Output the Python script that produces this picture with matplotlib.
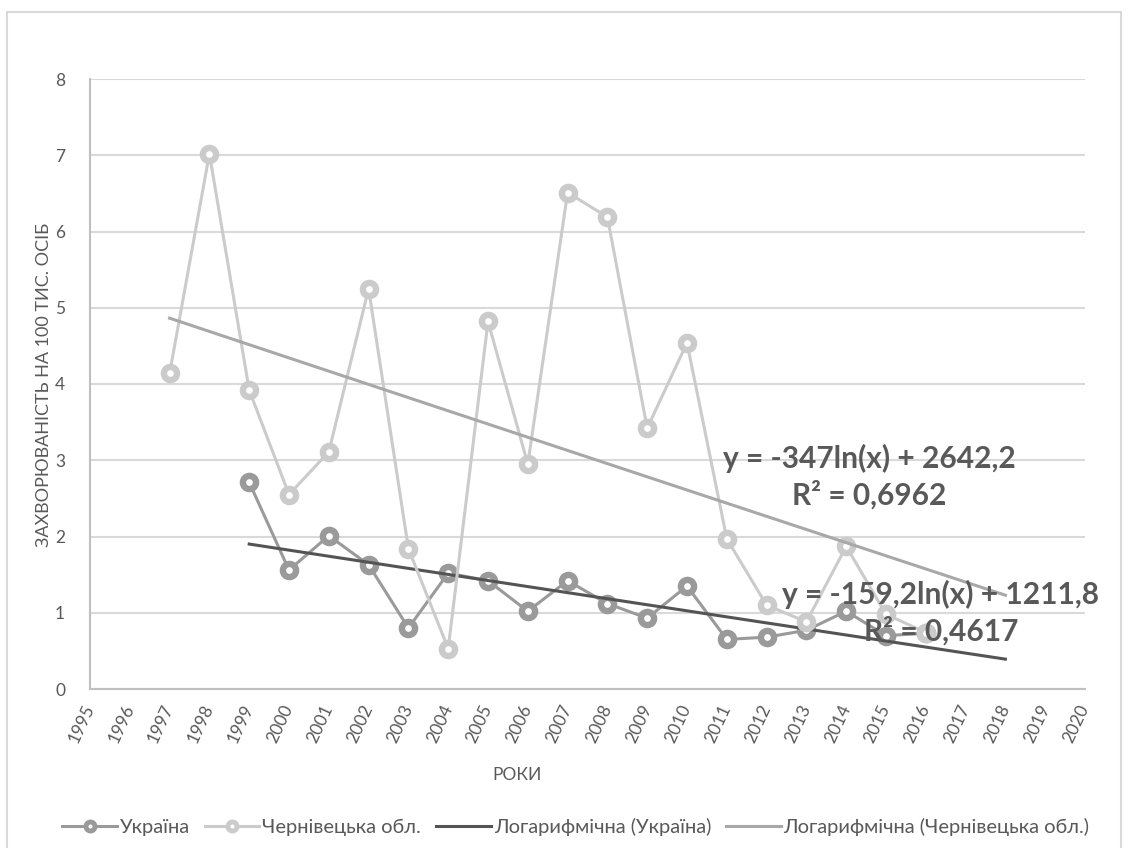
import numpy as np
import matplotlib
matplotlib.use("Agg")
import matplotlib.pyplot as plt
from matplotlib.lines import Line2D
from matplotlib.patches import Rectangle

# ---- data ----
ukr_years = [1999, 2000, 2001, 2002, 2003, 2004, 2005, 2006, 2007, 2008,
             2009, 2010, 2011, 2012, 2013, 2014, 2015, 2016]
ukr_vals = [2.71, 1.56, 2.01, 1.63, 0.80, 1.52, 1.42, 1.02, 1.42, 1.12,
            0.93, 1.35, 0.65, 0.68, 0.77, 1.02, 0.70, 0.73]
chv_years = [1997, 1998, 1999, 2000, 2001, 2002, 2003, 2004, 2005, 2006,
             2007, 2008, 2009, 2010, 2011, 2012, 2013, 2014, 2015, 2016]
chv_vals = [4.14, 7.02, 3.92, 2.55, 3.11, 5.25, 1.84, 0.53, 4.82, 2.95,
            6.51, 6.19, 3.42, 4.54, 1.97, 1.10, 0.88, 1.87, 0.98, 0.74]
trend_end = 2018
x_ticks = list(range(1995, 2021))
y_ticks = list(range(0, 9))
series_names = ["Україна", "Чернівецька обл.",
                "Логарифмічна (Україна)", "Логарифмічна (Чернівецька обл.)"]
eq_chv = ["y = -347ln(x) + 2642,2", "R² = 0,6962"]
eq_ukr = ["y = -159,2ln(x) + 1211,8", "R² = 0,4617"]
x_label = "РОКИ"
y_label = "ЗАХВОРЮВАНІСТЬ НА 100 ТИС. ОСІБ"

plt.rcParams['font.family'] = ['Lato', 'DejaVu Sans']

W, H = 1129, 848
fig = plt.figure(figsize=(W / 100, H / 100), dpi=100)
ax = fig.add_axes([90 / W, 1 - 689 / H, (1085 - 90) / W, (689 - 79) / H])

c_ukr = "#9a9a9a"
c_chv = "#cbcbcb"
c_tr_ukr = "#545454"
c_tr_chv = "#a8a8a8"
txt = "#595959"

ax.set_xlim(1995, 2020)
ax.set_ylim(0, 8)
ax.set_xticks(x_ticks)
ax.set_yticks(y_ticks)
ax.yaxis.grid(True, color="#d9d9d9", lw=1.5)
ax.set_axisbelow(True)
for s in ["top", "right"]:
    ax.spines[s].set_visible(False)
for s in ["left", "bottom"]:
    ax.spines[s].set_color("#bfbfbf")
    ax.spines[s].set_linewidth(1.5)
ax.tick_params(length=0, colors=txt, labelsize=12.5)
ax.tick_params(axis="y", pad=18)
ax.tick_params(axis="x", pad=12)
for lab in ax.get_xticklabels():
    lab.set_rotation(65)
    lab.set_ha("right")
    lab.set_va("center")
    lab.set_rotation_mode("anchor")

mk = dict(marker="o", ms=9.5, mew=4.6, mfc="white")
ax.plot(ukr_years, ukr_vals, color=c_ukr, lw=2.2, mec=c_ukr, zorder=3, **mk)

# logarithmic trend lines fitted from the data
def log_fit(xs, ys, x_end):
    a, b = np.polyfit(np.log(xs), ys, 1)
    xx = np.linspace(xs[0], x_end, 100)
    return xx, a * np.log(xx) + b

tx, ty = log_fit(ukr_years, ukr_vals, trend_end)
ax.plot(tx, ty, color=c_tr_ukr, lw=2.2, zorder=4)

ax.plot(chv_years, chv_vals, color=c_chv, lw=2.2, mec=c_chv, zorder=5, **mk)
tx2, ty2 = log_fit(chv_years, chv_vals, trend_end)
ax.plot(tx2, ty2, color=c_tr_chv, lw=2.2, zorder=6)

# equations
eqkw = dict(transform=fig.transFigure, ha="center", va="center",
            fontsize=21.5, fontweight="bold", color=txt, zorder=10)
fig.text(869 / W, 1 - 458 / H, eq_chv[0], **eqkw)
fig.text(869 / W, 1 - 495 / H, eq_chv[1], **eqkw)
fig.text(941 / W, 1 - 594 / H, eq_ukr[0], **eqkw)
fig.text(941 / W, 1 - 631 / H, eq_ukr[1], **eqkw)

# axis labels
fig.text(517 / W, 1 - 775 / H, x_label, ha="center", va="center",
         fontsize=12.5, color=txt)
fig.text(44 / W, 1 - 385 / H, y_label, ha="center", va="center",
         rotation=90, fontsize=13, color=txt)

# legend
handles = [
    Line2D([], [], color=c_ukr, lw=2.2, marker="o", ms=6.5, mew=3.5,
           mfc="white", mec=c_ukr),
    Line2D([], [], color=c_chv, lw=2.2, marker="o", ms=6.5, mew=3.5,
           mfc="white", mec=c_chv),
    Line2D([], [], color=c_tr_ukr, lw=2.2),
    Line2D([], [], color=c_tr_chv, lw=2.2),
]
leg = fig.legend(handles, series_names, loc="center",
                 bbox_to_anchor=(576 / W, 1 - 827 / H), ncol=4, frameon=False,
                 fontsize=14.5, handlelength=2.7, handletextpad=0.15,
                 columnspacing=0.75, labelcolor=txt)

# chart border
fig.patches.append(Rectangle((7 / W, -0.1), (1121 - 7) / W, 1.1 - 12 / H,
                             transform=fig.transFigure, fill=False,
                             edgecolor="#d9d9d9", lw=1.5))

fig.savefig("out.png", dpi=100)
